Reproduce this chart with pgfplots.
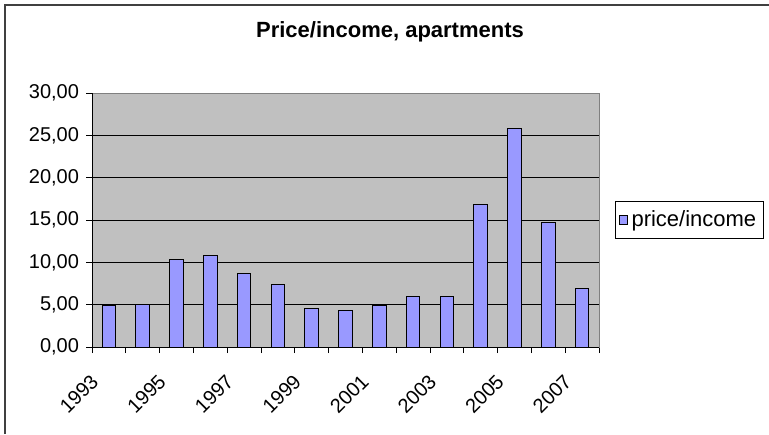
\documentclass[border=0pt]{standalone}
\usepackage{pgfplots}
\pgfplotsset{compat=1.18}
\usepackage{fontspec}
\setmainfont{Liberation Sans}
\definecolor{plotbg}{HTML}{C0C0C0}
\definecolor{barfill}{HTML}{9999FF}
\definecolor{frameline}{HTML}{404040}
\begin{document}
\begin{tikzpicture}
\useasboundingbox (0,0) rectangle (384.5pt,217pt);
\draw[line width=1pt, color=frameline] (2.5pt,0) -- (2.5pt,214.5pt) -- (384.5pt,214.5pt);
\node[font=\bfseries\fontsize{11}{13}\selectfont, anchor=base] at (195pt,198pt) {Price/income, apartments};
\begin{axis}[
  at={(46pt,43.5pt)}, anchor=south west,
  scale only axis, width=253.5pt, height=127pt,
  xmin=-0.5, xmax=14.5, ymin=0, ymax=30,
  ybar,
  ytick={0,5,...,30},
  xtick={-0.5,0.5,...,14.5},
  xticklabels={},
  extra x ticks={0,2,...,14},
  extra x tick labels={1993,1995,1997,1999,2001,2003,2005,2007},
  extra x tick style={major tick length=0pt, grid=none,
    xticklabel style={inner sep=0pt, anchor=east, xshift=-7pt, yshift=-15.5pt, rotate=45}},
  tick align=outside, tick pos=left,
  major tick length=3pt,
  tick style={black, line width=0.5pt},
  ymajorgrids, major grid style={black, line width=0.5pt},
  axis line style={draw=gray, line width=0.5pt},
  axis background/.style={fill=plotbg},
  /pgf/number format/assume math mode=true,
  ticklabel style={font=\fontsize{10}{12}\selectfont},
  yticklabel style={/pgf/number format/.cd, fixed, fixed zerofill, precision=2, use comma},
  legend style={at={(axis description cs:1.0316,0.5)}, anchor=west, draw=black, line width=0.5pt, fill=white,
    font=\fontsize{11}{13}\selectfont, inner xsep=1.5pt, inner ysep=2.5pt},
  after end axis/.code={\draw[black, line width=0.5pt] (rel axis cs:0,1) -- (rel axis cs:0,0) -- (rel axis cs:1,0);},
]
\addplot[ybar, bar width=0.4, fill=barfill, draw=black, line width=0.5pt,
  legend image code/.code={\draw[fill=barfill, draw=black, line width=0.5pt] (0pt,-2.2pt) rectangle (4pt,2.2pt);}]
  coordinates {(0,4.86) (1,5.05) (2,10.35) (3,10.75) (4,8.65) (5,7.35) (6,4.5) (7,4.3) (8,4.86) (9,6.0) (10,6.0) (11,16.8) (12,25.75) (13,14.75) (14,6.95)};
\addlegendentry{price/income}
\end{axis}
\end{tikzpicture}
\end{document}
